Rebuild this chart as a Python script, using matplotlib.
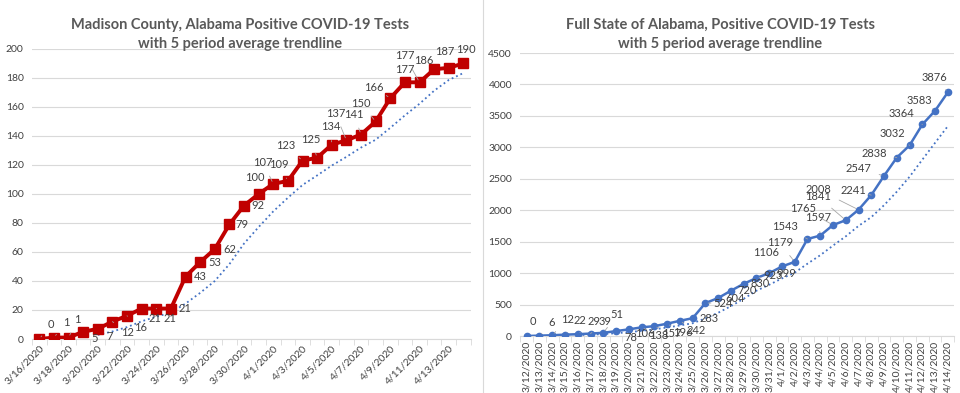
import matplotlib.pyplot as plt
import numpy as np
import pandas as pd

plt.rcParams['font.family'] = ['Lato', 'DejaVu Sans']

# Madison County data
madison_dates = pd.date_range('2020-03-16', '2020-04-14')
madison_cases = [0, 1, 1, 5, 7, 12, 16, 21, 21, 21, 43, 53, 62, 79, 92,
                 100, 107, 109, 123, 125, 134, 137, 141, 150, 166, 177, 177, 186, 187, 190]

# Full state data
state_dates = pd.date_range('2020-03-12', '2020-04-14')
state_cases = [0, 6, 12, 22, 29, 39, 51, 78, 106, 138, 157, 196, 242, 283, 524,
               604, 720, 830, 923, 999, 1106, 1179, 1543, 1597, 1765, 1841, 2008,
               2241, 2547, 2838, 3032, 3364, 3583, 3876]

# label offsets in pixels (dx, dy) - dy positive = up
madison_offsets = [(12, 15), (12, 15), (9, 18), (11, -7), (12, -8), (15, -11), (14, -12),
                   (13, -10), (14, -10), (14, 0), (15, 0), (15, 0), (15, 0), (13, 0), (14, 0),
                   (-4, 16), (-10, 21), (-9, 16), (-17, 15), (-6, 18), (-1, 18), (-11, 27),
                   (-7, 20), (-15, 18), (-16, 11), (0, 13), (-15, 27), (-10, 9), (-4, 16), (2, 14)]
state_offsets = [(6, 15), (12, 13), (15, 16), (15, 14), (16, 13), (15, 12), (14, 18),
                 (15, -6), (16, -4), (17, -8), (17, -7), (16, -9), (16, -10), (16, 0), (18, 0),
                 (17, 0), (16, 0), (16, 0), (17, 2), (17, 0), (-16, 14), (-15, 19), (-22, 12),
                 (-2, 18), (-30, 17), (-28, 24), (-40, 20), (-18, 5), (-26, 7), (-23, 4),
                 (-17, 12), (-21, 11), (-16, 10), (-13, 15)]

TXT = '#404040'
GRID = '#d9d9d9'
TITLE = '#595959'

fig = plt.figure(figsize=(9.6, 3.93), dpi=100)


def style_axes(ax, n):
    ax.set_xlim(-0.5, n - 0.5)
    for s in ['top', 'right', 'left']:
        ax.spines[s].set_visible(False)
    ax.spines['bottom'].set_color(GRID)
    ax.grid(axis='y', color=GRID, lw=0.8)
    ax.set_axisbelow(True)
    ax.tick_params(axis='y', length=0, labelsize=7.5, labelcolor=TXT, pad=6)
    ax.set_xticks(np.arange(n + 1) - 0.5, minor=True)
    ax.tick_params(axis='x', which='minor', length=4, color=GRID)
    ax.tick_params(axis='x', which='major', length=0, labelsize=7.5, labelcolor=TXT)


def add_labels(ax, values, offsets):
    for i, (v, (dx, dy)) in enumerate(zip(values, offsets)):
        far = np.hypot(dx, dy) > 17
        ax.annotate(str(v), (i, v), xytext=(dx, dy), textcoords='offset pixels',
                    ha='center', va='center', fontsize=8, color=TXT,
                    arrowprops=dict(arrowstyle='-', color='#a6a6a6', lw=0.6,
                                    shrinkA=4, shrinkB=2) if far else None)


# Left chart
ax1 = fig.add_axes([0.0333, 0.1374, 0.457, 0.738])
x1 = np.arange(len(madison_cases))
trend1 = pd.Series(madison_cases).rolling(5).mean()
ax1.plot(x1, trend1, ':', color='#4472c4', lw=1.3)
ax1.plot(x1, madison_cases, color='#c00000', lw=2.8, marker='s', ms=6.5, zorder=3)
ax1.set_ylim(0, 200)
ax1.set_yticks(range(0, 201, 20))
style_axes(ax1, len(madison_cases))
ax1.set_xticks(x1[::2])
ax1.set_xticklabels([f'{d.month}/{d.day}/{d.year}' for d in madison_dates[::2]],
                    rotation=45, ha='right', rotation_mode='anchor')
add_labels(ax1, madison_cases, madison_offsets)
fig.text(0.25, 0.955, 'Madison County, Alabama Positive COVID-19 Tests\nwith 5 period average trendline',
         ha='center', va='top', fontsize=10.5, fontweight='bold', color=TITLE, linespacing=1.45)

# Right chart
ax2 = fig.add_axes([0.542, 0.145, 0.452, 0.72])
x2 = np.arange(len(state_cases))
trend2 = pd.Series(state_cases).rolling(5).mean()
ax2.plot(x2, trend2, ':', color='#4472c4', lw=1.3)
ax2.plot(x2, state_cases, color='#4472c4', lw=1.8, marker='o', ms=4.5, zorder=3)
ax2.set_ylim(0, 4500)
ax2.set_yticks(range(0, 4501, 500))
style_axes(ax2, len(state_cases))
ax2.set_xticks(x2)
ax2.set_xticklabels([f'{d.month}/{d.day}/{d.year}' for d in state_dates],
                    rotation=90, ha='center', va='top')
add_labels(ax2, state_cases, state_offsets)
fig.text(0.75, 0.955, 'Full State of Alabama, Positive COVID-19 Tests\nwith 5 period average trendline',
         ha='center', va='top', fontsize=10.5, fontweight='bold', color=TITLE, linespacing=1.45)

# divider between panels
fig.add_artist(plt.Line2D([0.503, 0.503], [0, 1], color=GRID, lw=0.8))

fig.savefig('out.png', dpi=100)
